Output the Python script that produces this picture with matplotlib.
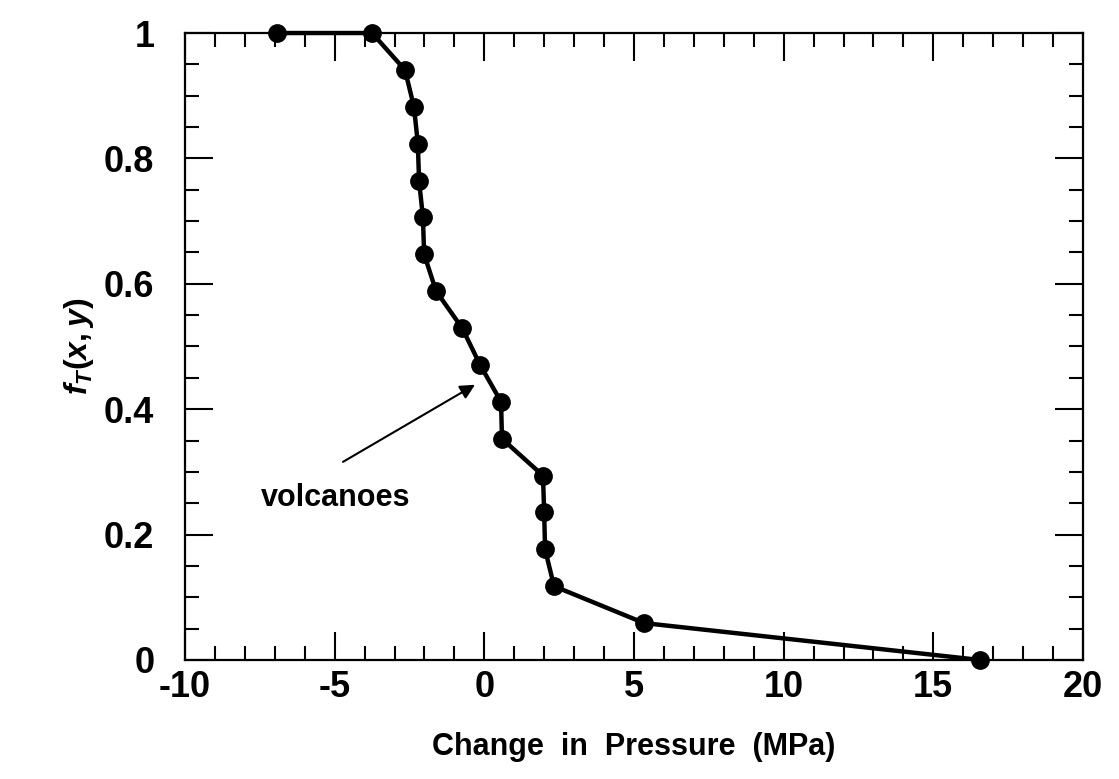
import matplotlib
matplotlib.use("Agg")
import matplotlib.pyplot as plt
from matplotlib.ticker import MultipleLocator

plt.rcParams['font.family'] = ['Liberation Sans', 'DejaVu Sans']
plt.rcParams['font.weight'] = 'bold'
plt.rcParams['mathtext.fontset'] = 'custom'
plt.rcParams['mathtext.it'] = 'Liberation Sans:bold:italic'
plt.rcParams['mathtext.rm'] = 'Liberation Sans:bold'

# Dane
pressure = [-6.93, -3.75, -2.65, -2.35, -2.22, -2.18, -2.05, -2.01, -1.61,
            -0.74, -0.14, 0.56, 0.59, 1.96, 2.0, 2.03, 2.33, 5.34, 16.56]
frac = [1.0, 1.0, 16/17, 15/17, 14/17, 13/17, 12/17, 11/17, 10/17, 9/17,
        8/17, 7/17, 6/17, 5/17, 4/17, 3/17, 2/17, 1/17, 0.0]

x_ticks = [-10, -5, 0, 5, 10, 15, 20]
x_labels = ['-10', '-5', '0', '5', '10', '15', '20']
y_ticks = [0, 0.2, 0.4, 0.6, 0.8, 1]
y_labels = ['0', '0.2', '0.4', '0.6', '0.8', '1']

fig = plt.figure(figsize=(11.19, 7.79), dpi=100)
ax = fig.add_axes([0.1653, 0.1528, 0.8025, 0.8048])

ax.plot(pressure, frac, color='black', linewidth=3.2, marker='o',
        markersize=12.5, clip_on=False, zorder=3)

ax.set_xlim(-10, 20)
ax.set_ylim(0, 1)
ax.set_xticks(x_ticks)
ax.set_xticklabels(x_labels)
ax.set_yticks(y_ticks)
ax.set_yticklabels(y_labels)
ax.xaxis.set_minor_locator(MultipleLocator(1))
ax.yaxis.set_minor_locator(MultipleLocator(0.05))

ax.tick_params(which='both', direction='in', top=True, right=True,
               width=1.5, labelsize=26)
ax.tick_params(which='major', length=20, pad=7)
ax.tick_params(which='minor', length=10)
ax.tick_params(axis='y', which='major', pad=22)
for sp in ax.spines.values():
    sp.set_linewidth(1.6)

ax.set_xlabel('Change  in  Pressure  (MPa)', fontsize=22, fontweight='bold',
              labelpad=20)
ax.set_ylabel(r'$f_T\mathit{(x,y)}$', fontsize=23, labelpad=6)

ax.annotate('', xy=(-0.31, 0.439), xytext=(-4.72, 0.316),
            arrowprops=dict(arrowstyle='-|>', color='black', lw=1.5,
                            mutation_scale=22, shrinkA=0, shrinkB=0))
ax.text(-7.45, 0.258, 'volcanoes', fontsize=22, fontweight='bold',
        va='center', ha='left')

fig.savefig('out.png', dpi=100)
